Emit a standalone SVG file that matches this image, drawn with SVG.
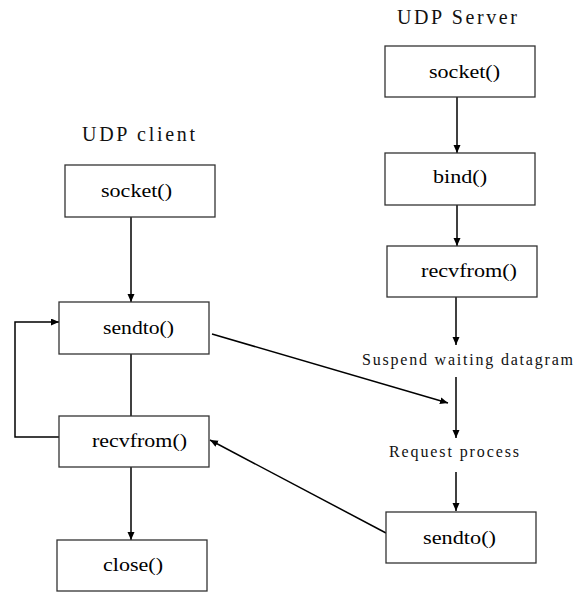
<svg xmlns="http://www.w3.org/2000/svg" width="578" height="592" viewBox="0 0 578 592">
<style>
.box{fill:#fff;stroke:#333;stroke-width:1.3}
.t{font-family:"Liberation Serif","Times New Roman",serif;font-size:18px;fill:#000}
.lbl{font-family:"Liberation Serif","Times New Roman",serif;fill:#111}
.c{stroke:#000;stroke-width:1.5;fill:none}
</style>
<defs>
<marker id="ah" markerUnits="userSpaceOnUse" markerWidth="9" markerHeight="8" refX="8" refY="3.5" orient="auto">
<path d="M0,0 L8,3.5 L0,7 z" fill="#000"/>
</marker>
</defs>
<rect width="578" height="592" fill="#fff"/>
<text class="lbl" x="397" y="24" font-size="20" textLength="120" lengthAdjust="spacing">UDP Server</text>
<text class="lbl" x="82" y="141" font-size="20" textLength="113" lengthAdjust="spacing">UDP client</text>
<text class="lbl" x="362" y="365" font-size="16" textLength="211" lengthAdjust="spacing">Suspend waiting datagram</text>
<text class="lbl" x="389" y="457" font-size="16" textLength="130" lengthAdjust="spacing">Request process</text>
<g id="connectors">
<line class="c" x1="131" y1="217" x2="131" y2="302" marker-end="url(#ah)"/>
<line class="c" x1="131" y1="354" x2="131" y2="416"/>
<line class="c" x1="131" y1="467" x2="131" y2="540" marker-end="url(#ah)"/>
<polyline class="c" points="59,437 15,437 15,322 59,322" marker-end="url(#ah)"/>
<line class="c" x1="212" y1="334" x2="448" y2="403" marker-end="url(#ah)"/>
<line class="c" x1="386" y1="533" x2="210" y2="440" marker-end="url(#ah)"/>
<line class="c" x1="457" y1="97" x2="457" y2="153" marker-end="url(#ah)"/>
<line class="c" x1="457" y1="205" x2="457" y2="246" marker-end="url(#ah)"/>
<line class="c" x1="456" y1="297" x2="456" y2="345" marker-end="url(#ah)"/>
<line class="c" x1="456" y1="377" x2="456" y2="438" marker-end="url(#ah)"/>
<line class="c" x1="456" y1="472" x2="456" y2="511" marker-end="url(#ah)"/>
</g>
<g id="c_socket"><rect class="box" x="65" y="165" width="150" height="52"/><text class="t" x="101" y="197" textLength="71" lengthAdjust="spacingAndGlyphs">socket()</text></g>
<g id="c_sendto"><rect class="box" x="59" y="302" width="150" height="52"/><text class="t" x="103" y="334" textLength="71" lengthAdjust="spacingAndGlyphs">sendto()</text></g>
<g id="c_recvfrom"><rect class="box" x="59" y="416" width="150" height="51"/><text class="t" x="92" y="447" textLength="95" lengthAdjust="spacingAndGlyphs">recvfrom()</text></g>
<g id="c_close"><rect class="box" x="57" y="540" width="150" height="51"/><text class="t" x="103" y="571" textLength="60" lengthAdjust="spacingAndGlyphs">close()</text></g>
<g id="s_socket"><rect class="box" x="385" y="46" width="150" height="51"/><text class="t" x="429" y="78" textLength="71" lengthAdjust="spacingAndGlyphs">socket()</text></g>
<g id="s_bind"><rect class="box" x="385" y="153" width="150" height="52"/><text class="t" x="433" y="183" textLength="54" lengthAdjust="spacingAndGlyphs">bind()</text></g>
<g id="s_recvfrom"><rect class="box" x="387" y="246" width="150" height="51"/><text class="t" x="421" y="277" textLength="96" lengthAdjust="spacingAndGlyphs">recvfrom()</text></g>
<g id="s_sendto"><rect class="box" x="386" y="512" width="150" height="51"/><text class="t" x="423" y="544" textLength="73" lengthAdjust="spacingAndGlyphs">sendto()</text></g>
</svg>
